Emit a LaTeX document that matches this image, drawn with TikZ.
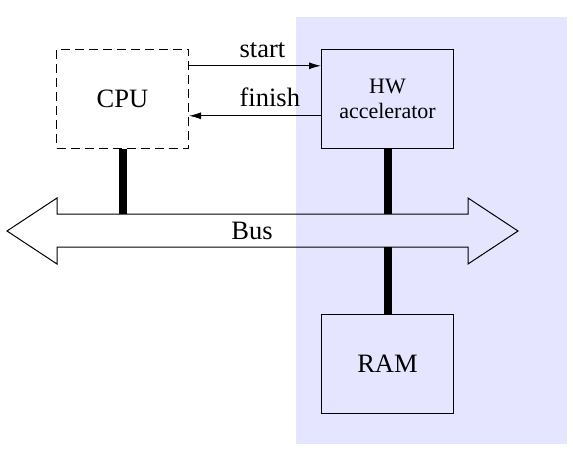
\documentclass[tikz,border=0pt]{standalone}
\usepackage{fontspec}
\setmainfont{Liberation Serif}
\usetikzlibrary{positioning,arrows.meta}
\definecolor{accelbg}{RGB}{229,229,255}

\begin{document}
\begin{tikzpicture}[x=1pt, y=-1pt,
  unit/.style={rectangle, draw, line width=1pt, minimum width=132pt, minimum height=99pt, align=center, inner sep=0pt, font=\fontsize{26.5}{30}\selectfont},
  signal/.style={line width=1pt, -{Latex[length=12pt, width=7pt]}},
  busline/.style={line width=8pt},
  lbl/.style={inner sep=0pt, font=\fontsize{26.5}{30}\selectfont}]
\useasboundingbox (0,0) rectangle (573,450);

% Accelerator side
\fill[accelbg] (296,17) rectangle (567,444);

% Units
\node [unit, dashed, dash pattern=on 9pt off 5pt] (cpu) at (122.5,98.8) {CPU};
\node [unit, right=132pt of cpu, font=\fontsize{22}{25}\selectfont] (hw) {HW\\accelerator};
\node [unit, below=165pt of hw] (ram) {RAM};

% Bus
\draw[line width=1pt] (7,231) -- (57,198) -- (57,214) -- (468,214) -- (468,198) -- (518,231)
  -- (468,264) -- (468,247) -- (57,247) -- (57,264) -- cycle;
\node [lbl] (bus) at (252,231) {Bus};
\coordinate (bustop) at (0,214);
\coordinate (busbot) at (0,247);

% Bus connections
\draw[busline] (cpu.south) -- (cpu.south |- bustop);
\draw[busline] (hw.south) -- (hw.south |- bustop);
\draw[busline] (ram.north) -- (ram.north |- busbot);

% Control signals
\draw[signal] ([yshift=33pt]cpu.east) -- node[lbl, pos=0.38, anchor=base west, yshift=8pt] {start} ([yshift=33pt]hw.west);
\draw[signal] ([yshift=-17pt]hw.west) -- node[lbl, pos=0.62, anchor=base west, yshift=9pt] {finish} ([yshift=-17pt]cpu.east);
\end{tikzpicture}
\end{document}
